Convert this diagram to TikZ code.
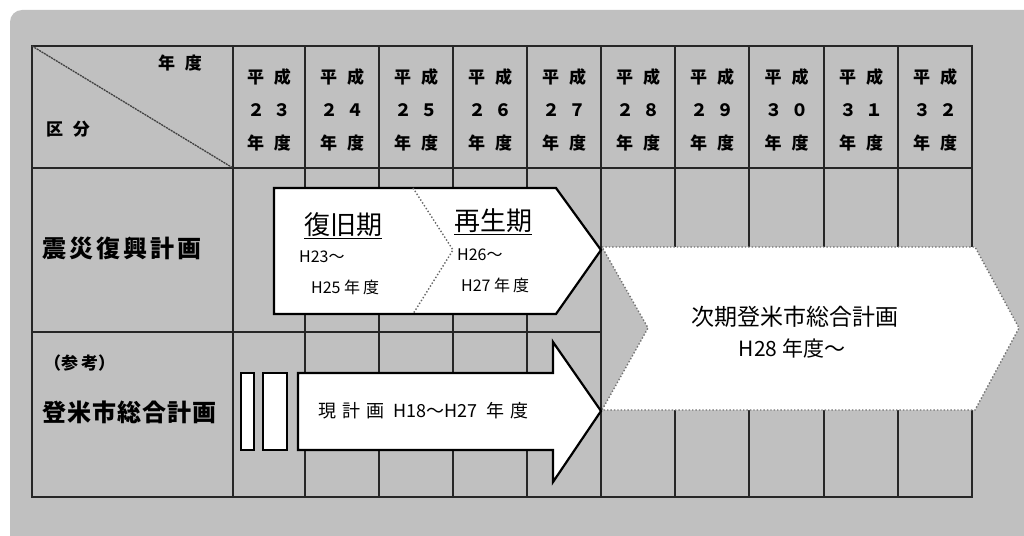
\documentclass[tikz,border=0pt]{standalone}
\usepackage{fontspec}
\setmainfont{Noto Sans CJK JP}
\begin{document}
\begin{tikzpicture}[x=1pt,y=-1pt,
  bgfill/.style={fill=bggray},
  gridline/.style={line width=1.3pt, draw=black!85},
  hdr/.style={font=\bfseries\fontsize{17}{17}\selectfont, inner sep=0pt, text=black},
  rowlabel/.style={font=\bfseries\fontsize{24}{24}\selectfont, inner sep=0pt, anchor=west},
  arrowbox/.style={fill=white, draw=black, line width=2.2pt, line join=miter},
  dotbox/.style={fill=white, draw=black!55, line width=1.4pt, dotted},
  divider/.style={draw=black!60, line width=1.4pt, dotted},
  period/.style={font=\fontsize{26}{26}\selectfont, inner sep=0pt, anchor=west},
  small/.style={font=\fontsize{16}{16}\selectfont, inner sep=0pt, anchor=west},
  big/.style={font=\fontsize{23}{23}\selectfont, inner sep=0pt},
]
\definecolor{bggray}{HTML}{C0C0C0}
\useasboundingbox (0,0) rectangle (1024,535);
\fill[white] (0,0) rectangle (1024,535);
\fill[bgfill, rounded corners=12pt] (10,600) -- (10,10) -- (1100,10) -- (1100,600) -- cycle;

% grid
\draw[gridline] (32,46) rectangle (972,497);
\draw[gridline] (32,168) -- (972,168);
\draw[gridline] (32,332) -- (601,332);
\foreach \x in {233,305,379,453,527,601,675,749,824,898}
  \draw[gridline] (\x,46) -- (\x,497);
\draw[line width=1.3pt, draw=black!75, dash pattern=on 2pt off 0.8pt] (32,46) -- (233,168);

% header texts
\node[hdr] (nendo) at (180,63) {年\kern10pt 度};
\node[hdr] (kubun) at (68,129) {区\kern10pt 分};
\foreach \x/\d/\n in {269/２\kern9pt ３/23, 342/２\kern9pt ４/24, 416/２\kern9pt ５/25, 490/２\kern9pt ６/26, 564/２\kern9pt ７/27, 638/２\kern9pt ８/28, 712/２\kern9pt ９/29, 786.5/３\kern9pt ０/30, 861/３\kern9pt １/31, 935/３\kern9pt ２/32}{
  \node[hdr] (hs\n) at (\x,77) {平\kern10pt 成};
  \node[hdr] (hd\n) at (\x,110) {\d};
  \node[hdr] (hn\n) at (\x,143) {年\kern10pt 度};
}

% row labels
\node[rowlabel] (shinsai) at (42,248) {震\kern3pt 災\kern3pt 復\kern3pt 興\kern3pt 計\kern3pt 画};
\node[rowlabel, font=\bfseries\fontsize{17}{17}\selectfont] (sanko) at (44,363) {（参\kern3pt 考）};
\node[rowlabel] (tome) at (42,412) {登\kern1pt 米\kern1pt 市\kern1pt 総\kern1pt 合\kern1pt 計\kern1pt 画};

% next plan arrow
\draw[dotbox] (602,247) -- (975,247) -- (1019,328) -- (975,410) -- (602,410) -- (648,328) -- cycle;
\node[big] (jiki) at (795,317) {次期登米市総合計画};
\node[big, font=\fontsize{21}{21}\selectfont] (h28) at (792,348) {H28 年度～};

% reconstruction arrow
\draw[arrowbox] (274,188) -- (556,188) -- (601,250) -- (556,314) -- (274,314) -- cycle;
\draw[divider] (413,188) -- (453,250) -- (413,314);
\node[period] (fukkyu) at (304,226) {\underline{復旧期}};
\node[small] (h23) at (299,257) {H23～};
\node[small] (h25) at (311,287) {H25 年\kern3pt 度};
\node[period] (saisei) at (454,222) {\underline{再生期}};
\node[small] (h26) at (457,255) {H26～};
\node[small] (h27) at (461,285) {H27 年\kern3pt 度};

% current plan arrow
\draw[arrowbox] (241,373) rectangle (254,450);
\draw[arrowbox] (263,373) rectangle (287,450);
\draw[arrowbox] (298,373) -- (553,373) -- (553,342) -- (601,411) -- (553,482) -- (553,450) -- (298,450) -- cycle;
\node[small, font=\fontsize{18}{18}\selectfont] (genkei) at (318,411) {現\kern6pt 計\kern6pt 画\hspace{9pt}H18～H27\hspace{9pt}年\kern6pt 度};
\end{tikzpicture}
\end{document}
